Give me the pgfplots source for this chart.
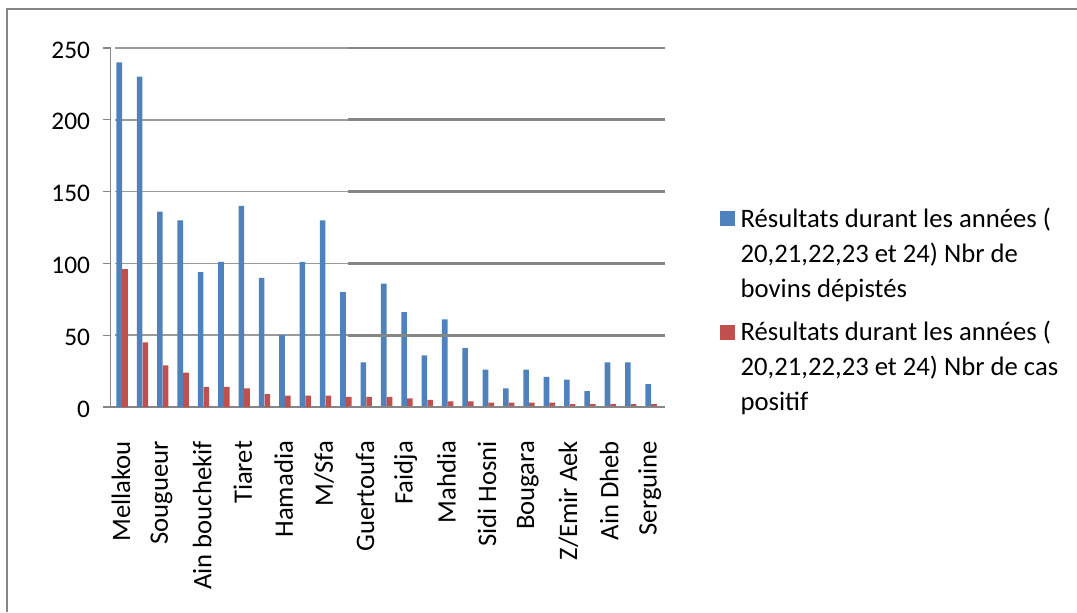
\documentclass[border=0pt]{standalone}
\usepackage{pgfplots}
\pgfplotsset{compat=1.18}
\usepackage{fontspec}
\setmainfont{Carlito}
\definecolor{cblue}{HTML}{4F81BD}
\definecolor{cred}{HTML}{C0504D}
\definecolor{gthin}{HTML}{9A9A9A}
\definecolor{gdark}{HTML}{868686}
\begin{document}
\begin{tikzpicture}[x=1pt,y=1pt]
\useasboundingbox (0,0) rectangle (807.75,459);
\draw[gdark, line width=1pt] (5.25,0) -- (5.25,452.25) -- (820,452.25);
\begin{axis}[
  at={(83pt,153.75pt)}, anchor=south west,
  scale only axis, width=412pt, height=269.25pt,
  xmin=-0.5, xmax=26.5, ymin=0, ymax=250,
  ybar=0pt, bar width=4.2pt,
  axis x line*=bottom, axis y line*=left,
  axis line style={gdark, line width=1pt},
  x axis line style={line width=1.8pt},
  ytick={0,50,100,150,200,250},
  xtick={0,2,...,26},
  xticklabels={Mellakou,Sougueur,Ain bouchekif,Tiaret,Hamadia,M/Sfa,Guertoufa,Faidja,Mahdia,Sidi Hosni,Bougara,Z/Emir Aek,Ain Dheb,Serguine},
  minor xtick={-0.5,0.5,...,26.5},
  tick align=outside, tick pos=left,
  major tick length=6pt,
  xtick style={draw=none},
  minor tick length=4.5pt,
  minor tick style={gdark, line width=1pt},
  ytick style={gdark, line width=1pt},
  /pgf/number format/assume math mode=true,
  yticklabel style={font=\fontsize{19pt}{22pt}\selectfont, xshift=-6pt, yshift=-1.5pt},
  xticklabel style={font=\fontsize{20pt}{24pt}\selectfont, yshift=-16pt, rotate=90, anchor=east},
  clip=false,
  legend style={draw=none, fill=none, at={(1.102,0.27)}, anchor=west,
    font=\fontsize{20pt}{26.25pt}\selectfont,
    nodes={align=left, inner sep=1pt}, row sep=14.25pt},
  legend cell align=left,
  legend image code/.code={\fill[#1,draw=none] (0pt,20.25pt) rectangle (11.25pt,31.5pt);
    \path (14.25pt,20.25pt);},
]
\foreach \v in {50,100,150,200,250} {
  \edef\tmp{\noexpand\draw[gthin, line width=1.2pt] (axis cs:-0.3,\v) -- (axis cs:11.17,\v);}
  \tmp
}
\addplot[fill=cblue, draw=none, bar shift=-1.2pt] coordinates {
(0,240) (1,230) (2,136) (3,130) (4,94) (5,101) (6,140) (7,90) (8,50) (9,101)
(10,130) (11,80) (12,31) (13,86) (14,66) (15,36) (16,61) (17,41) (18,26) (19,13)
(20,26) (21,21) (22,19) (23,11) (24,31) (25,31) (26,16)};
\addlegendentry{{Résultats durant les années (\\20,21,22,23 et 24) Nbr de\\bovins dépistés}}
\addplot[fill=cred, draw=none, bar shift=3.1pt] coordinates {
(0,96) (1,45) (2,29) (3,24) (4,14) (5,14) (6,13) (7,9) (8,8) (9,8)
(10,8) (11,7) (12,7) (13,7) (14,6) (15,5) (16,4) (17,4) (18,3) (19,3)
(20,3) (21,3) (22,2) (23,2) (24,2) (25,2) (26,2)};
\addlegendentry{{Résultats durant les années (\\20,21,22,23 et 24) Nbr de cas\\positif}}
\foreach \v in {0,50,100,150,200,250} {
  \edef\tmp{\noexpand\draw[gdark, line width=2pt] (axis cs:11.17,\v) -- (axis cs:26.75,\v);}
  \tmp
}
\end{axis}
\end{tikzpicture}
\end{document}
